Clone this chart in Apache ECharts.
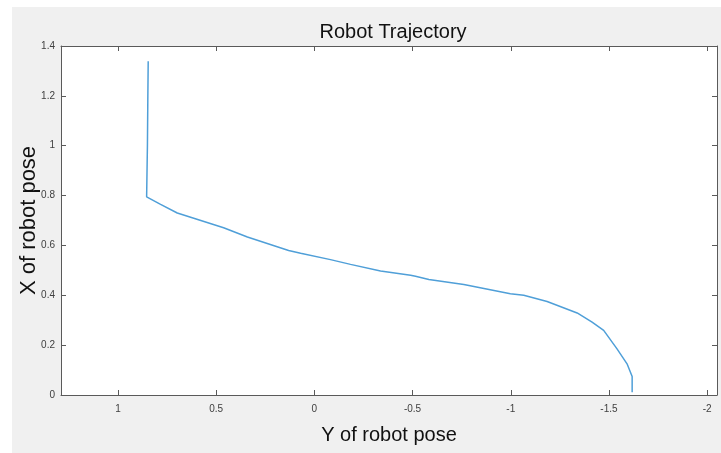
<!DOCTYPE html>
<html>
<head>
<meta charset="utf-8">
<script src="https://cdn.jsdelivr.net/npm/echarts@6/dist/echarts.min.js"></script>
<style>
  html, body { margin: 0; padding: 0; background: #fff; }
  #chart { position: absolute; left: 12px; top: 7px; width: 709px; height: 446px; background: #f0f0f0; }
</style>
</head>
<body>
<div id="chart"></div>
<script>
// trajectory: Y of pose (horizontal), X of pose (vertical)
const poseY = [0.846, 0.848, 0.850, 0.854, 0.783, 0.698, 0.462, 0.341, 0.131, 0.070, -0.082, -0.184, -0.337, -0.490, -0.515, -0.583, -0.761, -0.998, -1.066, -1.185, -1.338, -1.414, -1.473, -1.541, -1.592, -1.618, -1.618]
const poseX = [1.339, 1.180, 1.000, 0.795, 0.765, 0.730, 0.671, 0.634, 0.580, 0.569, 0.543, 0.524, 0.497, 0.480, 0.476, 0.463, 0.443, 0.406, 0.400, 0.375, 0.329, 0.292, 0.259, 0.185, 0.125, 0.074, 0.011]

const yTicks = [0, 0.2, 0.4, 0.6, 0.8, 1, 1.2, 1.4]

const font = "'Liberation Sans', Arial, Helvetica, sans-serif"
const axisColor = '#5a5a5a'

const chart = echarts.init(document.getElementById('chart'))

const xBase = {
  type: 'value',
  inverse: true,
  min: -2.05,
  max: 1.29,
  splitNumber: 7,
  splitLine: { show: false },
  axisLine: { show: true, onZero: false, lineStyle: { color: axisColor, width: 1 } },
  axisTick: { show: true, inside: true, length: 5, lineStyle: { color: axisColor } }
}
const yBase = {
  type: 'value',
  min: yTicks[0],
  max: yTicks[yTicks.length - 1],
  interval: 0.2,
  splitLine: { show: false },
  axisLine: { show: true, onZero: false, lineStyle: { color: axisColor, width: 1 } },
  axisTick: { show: true, inside: true, length: 5, lineStyle: { color: axisColor } }
}

chart.setOption({
  animation: false,
  backgroundColor: '#f0f0f0',
  title: {
    text: 'Robot Trajectory',
    left: 376,
    top: 10,
    textAlign: 'center',
    textStyle: { fontFamily: font, fontSize: 20, fontWeight: 'normal', color: '#111' }
  },
  grid: {
    left: 49,
    top: 39,
    right: 4,
    bottom: 58,
    outerBoundsMode: 'none',
    containLabel: false,
    show: true,
    backgroundColor: '#fff',
    borderWidth: 0
  },
  xAxis: [
    Object.assign({}, xBase, {
      position: 'bottom',
      name: 'Y of robot pose',
      nameLocation: 'middle',
      nameGap: 30,
      nameMoveOverlap: false,
      nameTextStyle: { fontFamily: font, fontSize: 20, color: '#111' },
      axisLabel: { show: true, showMinLabel: false, showMaxLabel: false, margin: 9, fontFamily: font, fontSize: 10, color: '#404040' }
    }),
    Object.assign({}, xBase, {
      position: 'top',
      axisLabel: { show: false }
    })
  ],
  yAxis: [
    Object.assign({}, yBase, {
      position: 'left',
      name: 'X of robot pose',
      nameLocation: 'middle',
      nameGap: 21,
      nameMoveOverlap: false,
      nameTextStyle: { fontFamily: font, fontSize: 22, color: '#111' },
      axisLabel: { show: true, margin: 6, fontFamily: font, fontSize: 10, color: '#404040' }
    }),
    Object.assign({}, yBase, {
      position: 'right',
      axisLabel: { show: false }
    })
  ],
  series: [
    {
      type: 'line',
      xAxisIndex: 0,
      yAxisIndex: 0,
      showSymbol: false,
      symbol: 'none',
      smooth: false,
      lineStyle: { color: '#4f9fd8', width: 1.5 },
      data: poseY.map((v, i) => [v, poseX[i]])
    }
  ]
})
</script>
</body>
</html>
